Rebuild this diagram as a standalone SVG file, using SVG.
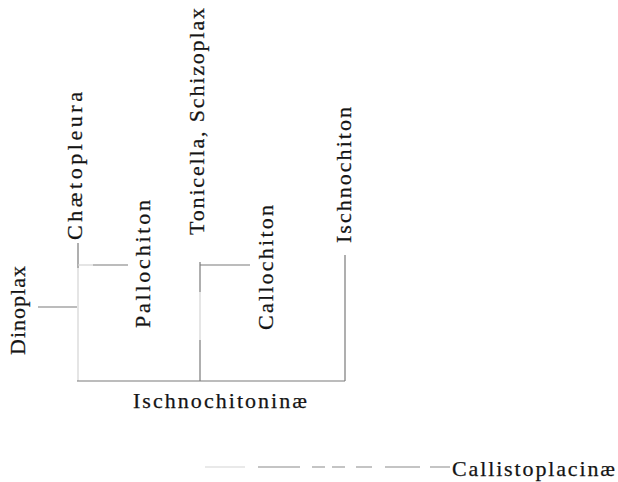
<svg xmlns="http://www.w3.org/2000/svg" width="618" height="482" viewBox="0 0 618 482">
  <style>
    text { font-family: "Liberation Serif", "Times New Roman", "DejaVu Serif", serif; fill: #141414; stroke: #141414; stroke-width: 0.25; }
    .lbl { font-size: 22px; }
    .grp { font-size: 22px; }
    .ln { stroke: #7a7a7a; stroke-width: 1.2; fill: none; }
    .faint { stroke: #d4d4d4; stroke-width: 1.2; fill: none; }
    .dash { stroke: #8a8a8a; stroke-width: 1.2; fill: none; }
  </style>
  <rect width="618" height="482" fill="#ffffff"/>

  <!-- branches of the tree -->
  <g id="connectors">
    <!-- Dinoplax stub -->
    <path class="ln" d="M38 307 H77"/>
    <!-- Chætopleura stem -->
    <path class="ln" d="M78 243 V268"/>
    <path class="faint" d="M78 268 V381"/>
    <!-- Pallochiton side branch -->
    <path class="faint" d="M78 265 H93"/>
    <path class="ln" d="M93 265 H128"/>
    <!-- Tonicella stem with Callochiton side branch -->
    <path class="ln" d="M200 262 V292"/>
    <path class="faint" d="M200 292 V340"/>
    <path class="ln" d="M200 340 V381"/>
    <path class="ln" d="M200 265 H250"/>
    <!-- Ischnochiton stem -->
    <path class="ln" d="M345 255 V381"/>
    <!-- Ischnochitoninae base -->
    <path class="ln" d="M77 381 H345"/>
    <!-- Callistoplacinae line, broken -->
    <path class="faint" d="M205 467 H245"/>
    <path class="dash" d="M258 467 H300 M312 467 H325 M332 467 H345 M356 467 H372 M385 467 H420 M430 467 H450"/>
  </g>

  <g id="n-dinoplax">
    <text class="lbl" transform="translate(25 355) rotate(-90)" textLength="89" lengthAdjust="spacing">Dinoplax</text>
  </g>
  <g id="n-chaetopleura">
    <text class="lbl" transform="translate(82 240) rotate(-90)" textLength="148" lengthAdjust="spacing">Chætopleura</text>
  </g>
  <g id="n-pallochiton">
    <text class="lbl" transform="translate(150 328) rotate(-90)" textLength="128" lengthAdjust="spacing">Pallochiton</text>
  </g>
  <g id="n-tonicella">
    <text class="lbl" transform="translate(204 235) rotate(-90)" textLength="227" lengthAdjust="spacing">Tonicella, Schizoplax</text>
  </g>
  <g id="n-callochiton">
    <text class="lbl" transform="translate(273 330) rotate(-90)" textLength="125" lengthAdjust="spacing">Callochiton</text>
  </g>
  <g id="n-ischnochiton">
    <text class="lbl" transform="translate(351 243) rotate(-90)" textLength="136" lengthAdjust="spacing">Ischnochiton</text>
  </g>
  <g id="n-ischnochitoninae">
    <text class="grp" x="133" y="408" textLength="174" lengthAdjust="spacing">Ischnochitoninæ</text>
  </g>
  <g id="n-callistoplacinae">
    <text class="grp" x="452" y="476" textLength="163" lengthAdjust="spacing">Callistoplacinæ</text>
  </g>
</svg>
